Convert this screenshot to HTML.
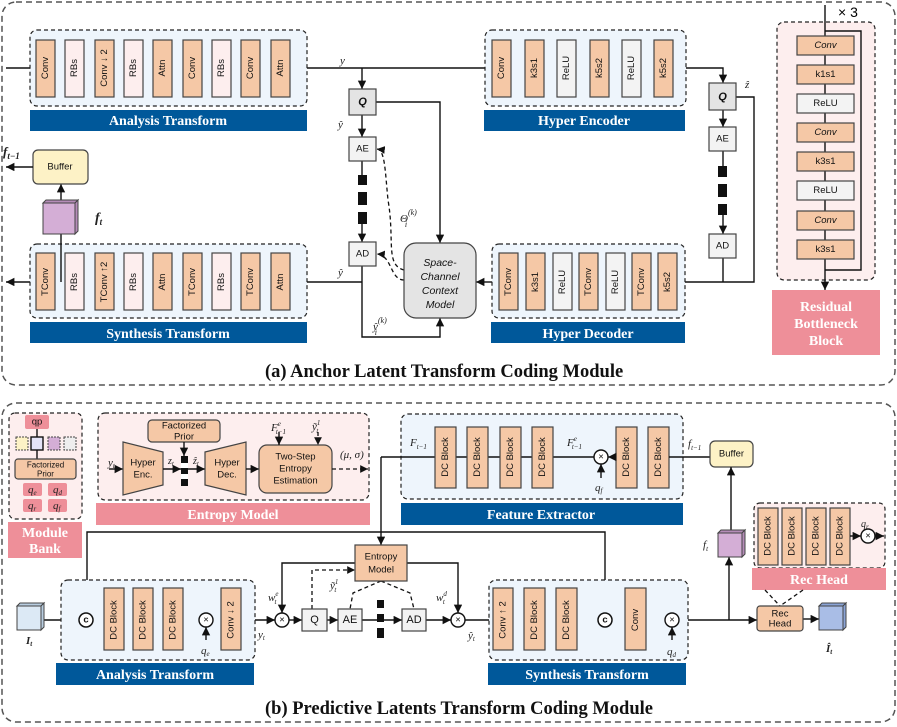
<!DOCTYPE html>
<html><head><meta charset="utf-8"><style>
body{margin:0;background:#fff}
svg{display:block;font-family:"Liberation Sans",sans-serif}
.o{fill:#f5c8a6;stroke:#444;stroke-width:1.2}
.p{fill:#fdeeee;stroke:#444;stroke-width:1.2}
.w{fill:#f3f3f3;stroke:#444;stroke-width:1.2}
.g{fill:#e4e4e4;stroke:#444;stroke-width:1.2}
.bx{fill:#eef5fc;stroke:#222;stroke-width:1.2;stroke-dasharray:4 3}
.px{fill:#fdeeee;stroke:#222;stroke-width:1.2;stroke-dasharray:4 3}
.bar{fill:#00589a}
.pk{fill:#ee8f99}
.lt{font-family:"Liberation Serif",serif;font-weight:bold;fill:#fff;font-size:14px;text-anchor:middle}
.t{font-size:9.5px;text-anchor:middle;dominant-baseline:central;fill:#111}
.i{font-family:"Liberation Serif",serif;font-style:italic;font-size:11px;fill:#222}
.l{stroke:#111;stroke-width:1.4;fill:none}
.d{stroke:#111;stroke-width:1.3;fill:none;stroke-dasharray:4 3}
.cap{font-family:"Liberation Serif",serif;font-weight:bold;font-size:18.5px;fill:#111}
</style></head><body>
<svg width="897" height="727" viewBox="0 0 897 727">
<defs><marker id="a" markerWidth="8" markerHeight="8" refX="6" refY="3" orient="auto"><path d="M0,0 L6,3 L0,6z" fill="#111"/></marker></defs>
<rect x="2" y="2" width="893" height="383" rx="14" fill="none" stroke="#555" stroke-width="1.5" stroke-dasharray="6 4"/>
<rect x="2" y="403" width="893" height="319" rx="14" fill="none" stroke="#555" stroke-width="1.5" stroke-dasharray="6 4"/>
<text x="265" y="377" class="cap">(a)  Anchor Latent Transform Coding Module</text>
<text x="265" y="714" class="cap">(b)  Predictive Latents Transform Coding Module</text>

<path class="l" d="M6,68 H723 V83" marker-end="url(#a)"/>
<path class="l" d="M362,68 V89" marker-end="url(#a)"/>
<path class="l" d="M362,115 V137" marker-end="url(#a)"/>
<path class="l" d="M362,161 V242" marker-end="url(#a)"/>
<path class="l" d="M376,102 H440 V243" marker-end="url(#a)"/>
<path class="l" d="M362,282 H6" marker-end="url(#a)"/>
<path class="l" d="M362,266 V337 H440 V318" marker-end="url(#a)"/>
<path class="l" d="M492,282 H476" marker-end="url(#a)"/>
<path class="l" d="M685,282 H754 V97 H736"/>
<path class="l" d="M723,258 V282"/>
<path class="l" d="M723,110 V127" marker-end="url(#a)"/>
<path class="l" d="M723,151 V234" marker-end="url(#a)"/>
<path class="d" d="M404,270 C385,265 395,240 388,200 C385,170 385,150 377,149" marker-end="url(#a)"/>
<path class="d" d="M404,280 C390,280 392,255 377,254" marker-end="url(#a)"/>

<rect x="30" y="30" width="277" height="76" rx="7" class="bx"/>
<g>
<rect x="36" y="40" width="19" height="57" class="o"/><text class="t" transform="translate(45.5,68) rotate(-90)">Conv</text>
<rect x="65" y="40" width="19" height="57" class="p"/><text class="t" transform="translate(74.5,68) rotate(-90)">RBs</text>
<rect x="95" y="40" width="19" height="57" class="o"/><text class="t" transform="translate(104.5,68) rotate(-90)">Conv ↓ 2</text>
<rect x="124" y="40" width="19" height="57" class="p"/><text class="t" transform="translate(133.5,68) rotate(-90)">RBs</text>
<rect x="153" y="40" width="19" height="57" class="o"/><text class="t" transform="translate(162.5,68) rotate(-90)">Attn</text>
<rect x="183" y="40" width="19" height="57" class="o"/><text class="t" transform="translate(192.5,68) rotate(-90)">Conv</text>
<rect x="212" y="40" width="19" height="57" class="p"/><text class="t" transform="translate(221.5,68) rotate(-90)">RBs</text>
<rect x="241" y="40" width="19" height="57" class="o"/><text class="t" transform="translate(250.5,68) rotate(-90)">Conv</text>
<rect x="271" y="40" width="19" height="57" class="o"/><text class="t" transform="translate(280.5,68) rotate(-90)">Attn</text>
</g>
<rect x="30" y="110" width="277" height="21" class="bar"/><text x="168" y="125" class="lt">Analysis Transform</text>

<rect x="30" y="244" width="277" height="74" rx="7" class="bx"/>
<path class="l" d="M61,282 V234"/><path class="l" d="M61,200 V184" marker-end="url(#a)"/>
<rect x="36" y="253" width="19" height="57" class="o"/><text class="t" transform="translate(45.5,282) rotate(-90)">TConv</text>
<rect x="65" y="253" width="19" height="57" class="p"/><text class="t" transform="translate(74.5,282) rotate(-90)">RBs</text>
<rect x="95" y="253" width="19" height="57" class="o"/><text class="t" transform="translate(104.5,282) rotate(-90)">TConv ↑2</text>
<rect x="124" y="253" width="19" height="57" class="p"/><text class="t" transform="translate(133.5,282) rotate(-90)">RBs</text>
<rect x="153" y="253" width="19" height="57" class="o"/><text class="t" transform="translate(162.5,282) rotate(-90)">Attn</text>
<rect x="183" y="253" width="19" height="57" class="o"/><text class="t" transform="translate(192.5,282) rotate(-90)">TConv</text>
<rect x="212" y="253" width="19" height="57" class="p"/><text class="t" transform="translate(221.5,282) rotate(-90)">RBs</text>
<rect x="241" y="253" width="19" height="57" class="o"/><text class="t" transform="translate(250.5,282) rotate(-90)">TConv</text>
<rect x="271" y="253" width="19" height="57" class="o"/><text class="t" transform="translate(280.5,282) rotate(-90)">Attn</text>
<rect x="30" y="322" width="277" height="21" class="bar"/><text x="168" y="338" class="lt">Synthesis Transform</text>

<rect x="33" y="150" width="55" height="34" rx="5" fill="#fdf2c6" stroke="#444" stroke-width="1.2"/><text x="60" y="167" class="t">Buffer</text>
<path class="l" d="M33,167 H6" marker-end="url(#a)"/>
<text x="3" y="156" class="i" style="font-weight:bold;font-size:13px">f<tspan font-size="9" dy="3">t−1</tspan></text>
<rect x="43" y="203" width="32" height="31" fill="#d4aed6" stroke="#444"/>
<polygon points="43,203 46,200 78,200 75,203" fill="#b58cb8" stroke="#444"/>
<polygon points="75,203 78,200 78,231 75,234" fill="#b58cb8" stroke="#444"/>
<text x="95" y="222" class="i" style="font-weight:bold;font-size:14px">f<tspan font-size="9" dy="3">t</tspan></text>

<text x="340" y="64" class="i">y</text>
<rect x="349" y="89" width="27" height="26" class="g"/><text x="362.5" y="102" class="t" style="font-style:italic;font-weight:bold;font-size:11px">Q</text>
<text x="338" y="128" class="i">ŷ</text>
<rect x="349" y="137" width="27" height="24" class="w"/><text x="362.5" y="149" class="t">AE</text>
<rect x="358" y="175" width="9" height="49" fill="#111"/><rect x="358" y="185" width="9" height="7" fill="#fff"/><rect x="358" y="205" width="9" height="7" fill="#fff"/>
<rect x="349" y="242" width="27" height="24" class="w"/><text x="362.5" y="254" class="t">AD</text>
<text x="338" y="276" class="i">ŷ</text>
<text x="400" y="222" class="i">Θ<tspan font-size="8" dy="-7">(k)</tspan><tspan font-size="8" dx="-12" dy="12">i</tspan></text>
<text x="373" y="330" class="i">ŷ<tspan font-size="8" dy="-7">(k)</tspan><tspan font-size="8" dx="-12" dy="12">i</tspan></text>
<rect x="404" y="243" width="72" height="75" rx="12" class="g"/>
<g class="t" style="font-style:italic;font-size:10.5px"><text x="440" y="263">Space-</text><text x="440" y="277">Channel</text><text x="440" y="291">Context</text><text x="440" y="305">Model</text></g>

<rect x="485" y="30" width="201" height="76" rx="7" class="bx"/>
<rect x="492" y="40" width="19" height="57" class="o"/><text class="t" transform="translate(501.5,68) rotate(-90)">Conv</text>
<rect x="525" y="40" width="19" height="57" class="o"/><text class="t" transform="translate(534.5,68) rotate(-90)">k3s1</text>
<rect x="557" y="40" width="19" height="57" class="w"/><text class="t" transform="translate(566.5,68) rotate(-90)">ReLU</text>
<rect x="590" y="40" width="19" height="57" class="o"/><text class="t" transform="translate(599.5,68) rotate(-90)">k5s2</text>
<rect x="622" y="40" width="19" height="57" class="w"/><text class="t" transform="translate(631.5,68) rotate(-90)">ReLU</text>
<rect x="654" y="40" width="19" height="57" class="o"/><text class="t" transform="translate(663.5,68) rotate(-90)">k5s2</text>
<rect x="484" y="110" width="201" height="21" class="bar"/><text x="584" y="125" class="lt">Hyper Encoder</text>

<rect x="709" y="83" width="27" height="27" class="g"/><text x="722.5" y="97" class="t" style="font-style:italic;font-weight:bold;font-size:11px">Q</text>
<text x="745" y="88" class="i">ẑ</text>
<rect x="709" y="127" width="27" height="24" class="w"/><text x="722.5" y="139" class="t">AE</text>
<rect x="718" y="166" width="9" height="49" fill="#111"/><rect x="718" y="177" width="9" height="7" fill="#fff"/><rect x="718" y="197" width="9" height="7" fill="#fff"/>
<rect x="709" y="234" width="27" height="24" class="w"/><text x="722.5" y="246" class="t">AD</text>

<rect x="492" y="244" width="193" height="74" rx="7" class="bx"/>
<rect x="499" y="253" width="19" height="57" class="o"/><text class="t" transform="translate(508.5,282) rotate(-90)">TConv</text>
<rect x="526" y="253" width="19" height="57" class="o"/><text class="t" transform="translate(535.5,282) rotate(-90)">k3s1</text>
<rect x="553" y="253" width="19" height="57" class="w"/><text class="t" transform="translate(562.5,282) rotate(-90)">ReLU</text>
<rect x="579" y="253" width="19" height="57" class="o"/><text class="t" transform="translate(588.5,282) rotate(-90)">TConv</text>
<rect x="606" y="253" width="19" height="57" class="w"/><text class="t" transform="translate(615.5,282) rotate(-90)">ReLU</text>
<rect x="632" y="253" width="19" height="57" class="o"/><text class="t" transform="translate(641.5,282) rotate(-90)">TConv</text>
<rect x="658" y="253" width="19" height="57" class="o"/><text class="t" transform="translate(667.5,282) rotate(-90)">k5s2</text>
<rect x="491" y="322" width="194" height="21" class="bar"/><text x="588" y="338" class="lt">Hyper Decoder</text>

<rect x="777" y="22" width="98" height="258" rx="7" class="px"/>
<path class="l" d="M825,5 V290" marker-end="url(#a)"/>
<path class="l" d="M825,31 H861 V270 H825"/>
<text x="838" y="17" style="font-size:14px">× 3</text>
<g>
<rect x="797" y="36" width="57" height="19" class="o"/><text x="825.5" y="45.5" class="t" style="font-style:italic">Conv</text>
<rect x="797" y="65" width="57" height="19" class="o"/><text x="825.5" y="74.5" class="t">k1s1</text>
<rect x="797" y="94" width="57" height="19" class="w"/><text x="825.5" y="103.5" class="t">ReLU</text>
<rect x="797" y="123" width="57" height="19" class="o"/><text x="825.5" y="132.5" class="t" style="font-style:italic">Conv</text>
<rect x="797" y="152" width="57" height="19" class="o"/><text x="825.5" y="161.5" class="t">k3s1</text>
<rect x="797" y="181" width="57" height="19" class="w"/><text x="825.5" y="190.5" class="t">ReLU</text>
<rect x="797" y="211" width="57" height="19" class="o"/><text x="825.5" y="220.5" class="t" style="font-style:italic">Conv</text>
<rect x="797" y="240" width="57" height="19" class="o"/><text x="825.5" y="249.5" class="t">k3s1</text>
</g>
<rect x="772" y="290" width="108" height="65" class="pk"/>
<g class="lt"><text x="826" y="311">Residual</text><text x="826" y="328">Bottleneck</text><text x="826" y="345">Block</text></g>

<!-- module bank -->
<rect x="9" y="413" width="73" height="106" rx="6" class="px"/>
<rect x="25" y="415" width="24" height="14" rx="2" class="pk"/><text x="37" y="422" class="t">qp</text>
<path class="l" d="M37,429 V459"/>
<rect x="16" y="437" width="12" height="13" fill="#fdf2c6" stroke="#444" stroke-dasharray="2 1"/>
<rect x="31" y="437" width="12" height="13" fill="#e4e4f8" stroke="#111" stroke-width="1.4"/>
<rect x="48" y="437" width="12" height="13" fill="#d4aed6" stroke="#444" stroke-dasharray="2 1"/>
<rect x="64" y="437" width="12" height="13" fill="#eee" stroke="#444" stroke-dasharray="2 1"/>
<rect x="15" y="459" width="61" height="20" rx="3" class="o"/><text x="45.5" y="465" class="t" style="font-size:8px">Factorized</text><text x="45.5" y="474" class="t" style="font-size:8px">Prior</text>
<rect x="23" y="483" width="19" height="13" rx="2" class="pk"/><text x="28" y="493" class="i">q<tspan font-size="7" dy="2">e</tspan></text>
<rect x="48" y="483" width="19" height="13" rx="2" class="pk"/><text x="53" y="493" class="i">q<tspan font-size="7" dy="2">d</tspan></text>
<rect x="23" y="499" width="19" height="13" rx="2" class="pk"/><text x="28" y="509" class="i">q<tspan font-size="7" dy="2">r</tspan></text>
<rect x="48" y="499" width="19" height="13" rx="2" class="pk"/><text x="53" y="509" class="i">q<tspan font-size="7" dy="2">f</tspan></text>
<rect x="8" y="522" width="74" height="36" class="pk"/><g class="lt"><text x="45" y="537">Module</text><text x="45" y="553">Bank</text></g>

<!-- entropy model -->
<rect x="98" y="413" width="271" height="87" rx="7" class="px"/>
<rect x="96" y="503" width="274" height="22" class="pk"/><text x="233" y="519" class="lt">Entropy Model</text>
<text x="108" y="466" class="i">y<tspan font-size="7" dy="2">t</tspan></text>
<path class="l" d="M109,469 H123" marker-end="url(#a)"/>
<path d="M123,442 L163,452 L163,485 L123,495z" class="o"/>
<text x="143" y="463" class="t">Hyper</text><text x="143" y="475" class="t">Enc.</text>
<path class="l" d="M163,469 H181" marker-end="url(#a)"/>
<text x="168" y="464" class="i" style="font-size:10px">z<tspan font-size="7" dy="2">t</tspan></text>
<rect x="148" y="420" width="72" height="22" rx="4" class="o"/><text x="184" y="426" class="t">Factorized</text><text x="184" y="437" class="t">Prior</text>
<path class="l" d="M184,442 V456" marker-end="url(#a)"/>
<rect x="181" y="456" width="7" height="30" fill="#111"/><rect x="181" y="463" width="7" height="5" fill="#fff"/><rect x="181" y="474" width="7" height="5" fill="#fff"/>
<path class="l" d="M188,469 H205" marker-end="url(#a)"/>
<text x="193" y="464" class="i" style="font-size:10px">ẑ<tspan font-size="7" dy="2">t</tspan></text>
<path d="M205,452 L246,442 L246,495 L205,485z" class="o"/>
<text x="227" y="463" class="t">Hyper</text><text x="227" y="475" class="t">Dec.</text>
<path class="l" d="M246,469 H259" marker-end="url(#a)"/>
<rect x="259" y="445" width="73" height="48" rx="8" class="o"/>
<text x="295.5" y="457" class="t">Two-Step</text><text x="295.5" y="469" class="t">Entropy</text><text x="295.5" y="481" class="t">Estimation</text>
<text x="271" y="431" class="i">F<tspan font-size="7" dy="-5">e</tspan><tspan font-size="7" dx="-5" dy="8">t−1</tspan></text>
<path class="l" d="M279,432 V445" marker-end="url(#a)"/>
<text x="312" y="430" class="i">ỹ<tspan font-size="7" dy="-5">1</tspan><tspan font-size="7" dx="-4" dy="8">t</tspan></text>
<path class="d" d="M318,432 V445" marker-end="url(#a)"/>
<path class="d" d="M332,469 H368" marker-end="url(#a)"/>
<text x="340" y="458" class="i">(μ, σ)</text>

<!-- feature extractor -->
<rect x="401" y="414" width="282" height="85" rx="7" class="bx"/>
<rect x="401" y="503" width="282" height="22" class="bar"/><text x="541" y="519" class="lt">Feature Extractor</text>
<path class="l" d="M381,457 H601"/>
<path class="l" d="M381,457 V545" marker-end="url(#a)"/>
<text x="410" y="446" class="i">F<tspan font-size="7" dy="3">t−1</tspan></text>
<g>
<rect x="435" y="427" width="21" height="61" class="o"/><text class="t" transform="translate(445.5,457) rotate(-90)">DC Block</text>
<rect x="467" y="427" width="21" height="61" class="o"/><text class="t" transform="translate(477.5,457) rotate(-90)">DC Block</text>
<rect x="500" y="427" width="21" height="61" class="o"/><text class="t" transform="translate(510.5,457) rotate(-90)">DC Block</text>
<rect x="532" y="427" width="21" height="61" class="o"/><text class="t" transform="translate(542.5,457) rotate(-90)">DC Block</text>
<rect x="616" y="427" width="21" height="61" class="o"/><text class="t" transform="translate(626.5,457) rotate(-90)">DC Block</text>
<rect x="648" y="427" width="21" height="61" class="o"/><text class="t" transform="translate(658.5,457) rotate(-90)">DC Block</text>
</g>
<path class="l" d="M616,457 H608" marker-end="url(#a)"/>
<circle cx="601" cy="457" r="7" fill="#fff" stroke="#111" stroke-width="1.4"/><text x="601" y="457" class="t">×</text>
<path class="l" d="M601,478 V464" marker-end="url(#a)"/>
<text x="595" y="491" class="i">q<tspan font-size="7" dy="2">f</tspan></text>
<text x="567" y="446" class="i">F<tspan font-size="7" dy="-5">e</tspan><tspan font-size="7" dx="-5" dy="8">t−1</tspan></text>
<path class="l" d="M669,457 H710"/>
<text x="688" y="447" class="i">f<tspan font-size="7" dy="3">t−1</tspan></text>
<rect x="710" y="441" width="43" height="26" rx="5" fill="#fdf2c6" stroke="#444" stroke-width="1.2"/><text x="731.5" y="454" class="t">Buffer</text>

<path class="l" d="M87,613 V532 H605 V613" marker-end="url(#a)"/>
<path class="l" d="M355,563 H282 V613" marker-end="url(#a)"/>
<path class="l" d="M407,563 H458 V613" marker-end="url(#a)"/>
<path class="d" d="M312,609 V570 H355" marker-end="url(#a)"/>
<path class="d" d="M381,581 L353,593 L350,609 M381,581 L410,593 L414,609" />
<rect x="355" y="545" width="52" height="36" class="o"/><text x="381" y="557" class="t">Entropy</text><text x="381" y="570" class="t">Model</text>
<text x="268" y="601" class="i">w<tspan font-size="7" dy="-5">e</tspan><tspan font-size="7" dx="-4" dy="8">t</tspan></text>
<text x="330" y="589" class="i">ỹ<tspan font-size="7" dy="-5">1</tspan><tspan font-size="7" dx="-4" dy="8">t</tspan></text>
<text x="436" y="601" class="i">w<tspan font-size="7" dy="-5">d</tspan><tspan font-size="7" dx="-4" dy="8">t</tspan></text>

<path class="l" d="M43,620 H79" marker-end="url(#a)"/>
<path class="l" d="M93,620 H199 M213,620 H275" marker-end="url(#a)"/>
<path class="l" d="M289,620 H302" marker-end="url(#a)"/>
<path class="l" d="M327,620 H338" marker-end="url(#a)"/>
<path class="l" d="M362,620 H377 M384,620 H402" marker-end="url(#a)"/>
<path class="l" d="M426,620 H451" marker-end="url(#a)"/>
<path class="l" d="M465,620 H598 M612,620 H665 M679,620 H757" marker-end="url(#a)"/>
<path class="l" d="M729,620 V557" marker-end="url(#a)"/>
<path class="l" d="M731,530 V467" marker-end="url(#a)"/>
<path class="l" d="M803,619 H819" marker-end="url(#a)"/>

<rect x="17" y="606" width="24" height="24" fill="#dce9f5" stroke="#444"/>
<polygon points="17,606 20,603 44,603 41,606" fill="#b8cde0" stroke="#444"/>
<polygon points="41,606 44,603 44,627 41,630" fill="#b8cde0" stroke="#444"/>
<text x="26" y="644" class="i" style="font-weight:bold">I<tspan font-size="7" dy="2">t</tspan></text>

<rect x="61" y="580" width="194" height="80" rx="7" class="bx"/>
<circle cx="86" cy="620" r="7" fill="#fff" stroke="#111" stroke-width="1.5"/><text x="86" y="620" class="t" style="font-weight:bold">c</text>
<rect x="104" y="588" width="20" height="62" class="o"/><text class="t" transform="translate(114,620) rotate(-90)">DC Block</text>
<rect x="133" y="588" width="20" height="62" class="o"/><text class="t" transform="translate(143,620) rotate(-90)">DC Block</text>
<rect x="163" y="588" width="20" height="62" class="o"/><text class="t" transform="translate(173,620) rotate(-90)">DC Block</text>
<circle cx="206" cy="620" r="7" fill="#fff" stroke="#111" stroke-width="1.4"/><text x="206" y="620" class="t">×</text>
<path class="l" d="M206,640 V627" marker-end="url(#a)"/>
<text x="201" y="654" class="i">q<tspan font-size="7" dy="2">e</tspan></text>
<rect x="221" y="588" width="20" height="62" class="o"/><text class="t" transform="translate(231,620) rotate(-90)">Conv ↓ 2</text>
<rect x="56" y="663" width="198" height="22" class="bar"/><text x="155" y="679" class="lt">Analysis Transform</text>
<text x="258" y="638" class="i">y<tspan font-size="7" dy="2">t</tspan></text>

<circle cx="282" cy="620" r="7" fill="#fff" stroke="#111" stroke-width="1.4"/><text x="282" y="620" class="t">×</text>
<rect x="302" y="609" width="25" height="22" class="w"/><text x="314.5" y="620" class="t" style="font-size:11px">Q</text>
<rect x="338" y="609" width="24" height="22" class="w"/><text x="350" y="620" class="t" style="font-size:11px">AE</text>
<rect x="377" y="600" width="7" height="38" fill="#111"/><rect x="377" y="608" width="7" height="6" fill="#fff"/><rect x="377" y="622" width="7" height="6" fill="#fff"/>
<rect x="402" y="609" width="24" height="22" class="w"/><text x="414" y="620" class="t" style="font-size:11px">AD</text>
<circle cx="458" cy="620" r="7" fill="#fff" stroke="#111" stroke-width="1.4"/><text x="458" y="620" class="t">×</text>
<text x="468" y="639" class="i">ŷ<tspan font-size="7" dy="2">t</tspan></text>

<rect x="489" y="580" width="199" height="80" rx="7" class="bx"/>
<rect x="493" y="588" width="20" height="62" class="o"/><text class="t" transform="translate(503,620) rotate(-90)">Conv ↑ 2</text>
<rect x="524" y="588" width="21" height="62" class="o"/><text class="t" transform="translate(534.5,620) rotate(-90)">DC Block</text>
<rect x="556" y="588" width="21" height="62" class="o"/><text class="t" transform="translate(566.5,620) rotate(-90)">DC Block</text>
<circle cx="605" cy="620" r="7" fill="#fff" stroke="#111" stroke-width="1.5"/><text x="605" y="620" class="t" style="font-weight:bold">c</text>
<rect x="625" y="588" width="21" height="62" class="o"/><text class="t" transform="translate(635.5,620) rotate(-90)">Conv</text>
<circle cx="672" cy="620" r="7" fill="#fff" stroke="#111" stroke-width="1.4"/><text x="672" y="620" class="t">×</text>
<path class="l" d="M672,640 V627" marker-end="url(#a)"/>
<text x="667" y="655" class="i">q<tspan font-size="7" dy="2">d</tspan></text>
<rect x="488" y="663" width="198" height="22" class="bar"/><text x="587" y="679" class="lt">Synthesis Transform</text>

<rect x="718" y="533" width="24" height="24" fill="#d4aed6" stroke="#444"/>
<polygon points="718,533 721,530 745,530 742,533" fill="#b58cb8" stroke="#444"/>
<polygon points="742,533 745,530 745,554 742,557" fill="#b58cb8" stroke="#444"/>
<text x="703" y="548" class="i">f<tspan font-size="7" dy="3">t</tspan></text>

<rect x="754" y="503" width="131" height="65" rx="6" class="px"/>
<rect x="758" y="508" width="20" height="57" class="o"/><text class="t" transform="translate(768,536) rotate(-90)">DC Block</text>
<rect x="782" y="508" width="20" height="57" class="o"/><text class="t" transform="translate(792,536) rotate(-90)">DC Block</text>
<rect x="806" y="508" width="20" height="57" class="o"/><text class="t" transform="translate(816,536) rotate(-90)">DC Block</text>
<rect x="830" y="508" width="20" height="57" class="o"/><text class="t" transform="translate(840,536) rotate(-90)">DC Block</text>
<path class="l" d="M850,536 H861" marker-end="url(#a)"/>
<circle cx="868" cy="536" r="7" fill="#fff" stroke="#111" stroke-width="1.4"/><text x="868" y="536" class="t">×</text>
<path class="l" d="M875,536 H884" marker-end="url(#a)"/>
<text x="861" y="527" class="i" style="font-size:10px">q<tspan font-size="7" dy="2">r</tspan></text>
<rect x="752" y="568" width="134" height="22" class="pk"/><text x="819" y="584" class="lt">Rec Head</text>
<path class="d" d="M765,590 L780,606 M803,590 L780,606"/>
<rect x="757" y="606" width="46" height="25" rx="3" class="o"/><text x="780" y="614" class="t">Rec</text><text x="780" y="624" class="t">Head</text>
<rect x="819" y="606" width="24" height="24" fill="#a9bde6" stroke="#444"/>
<polygon points="819,606 822,603 846,603 843,606" fill="#8aa3d6" stroke="#444"/>
<polygon points="843,606 846,603 846,627 843,630" fill="#8aa3d6" stroke="#444"/>
<text x="826" y="652" class="i" style="font-weight:bold">Î<tspan font-size="7" dy="2">t</tspan></text>
</svg>
</body></html>
